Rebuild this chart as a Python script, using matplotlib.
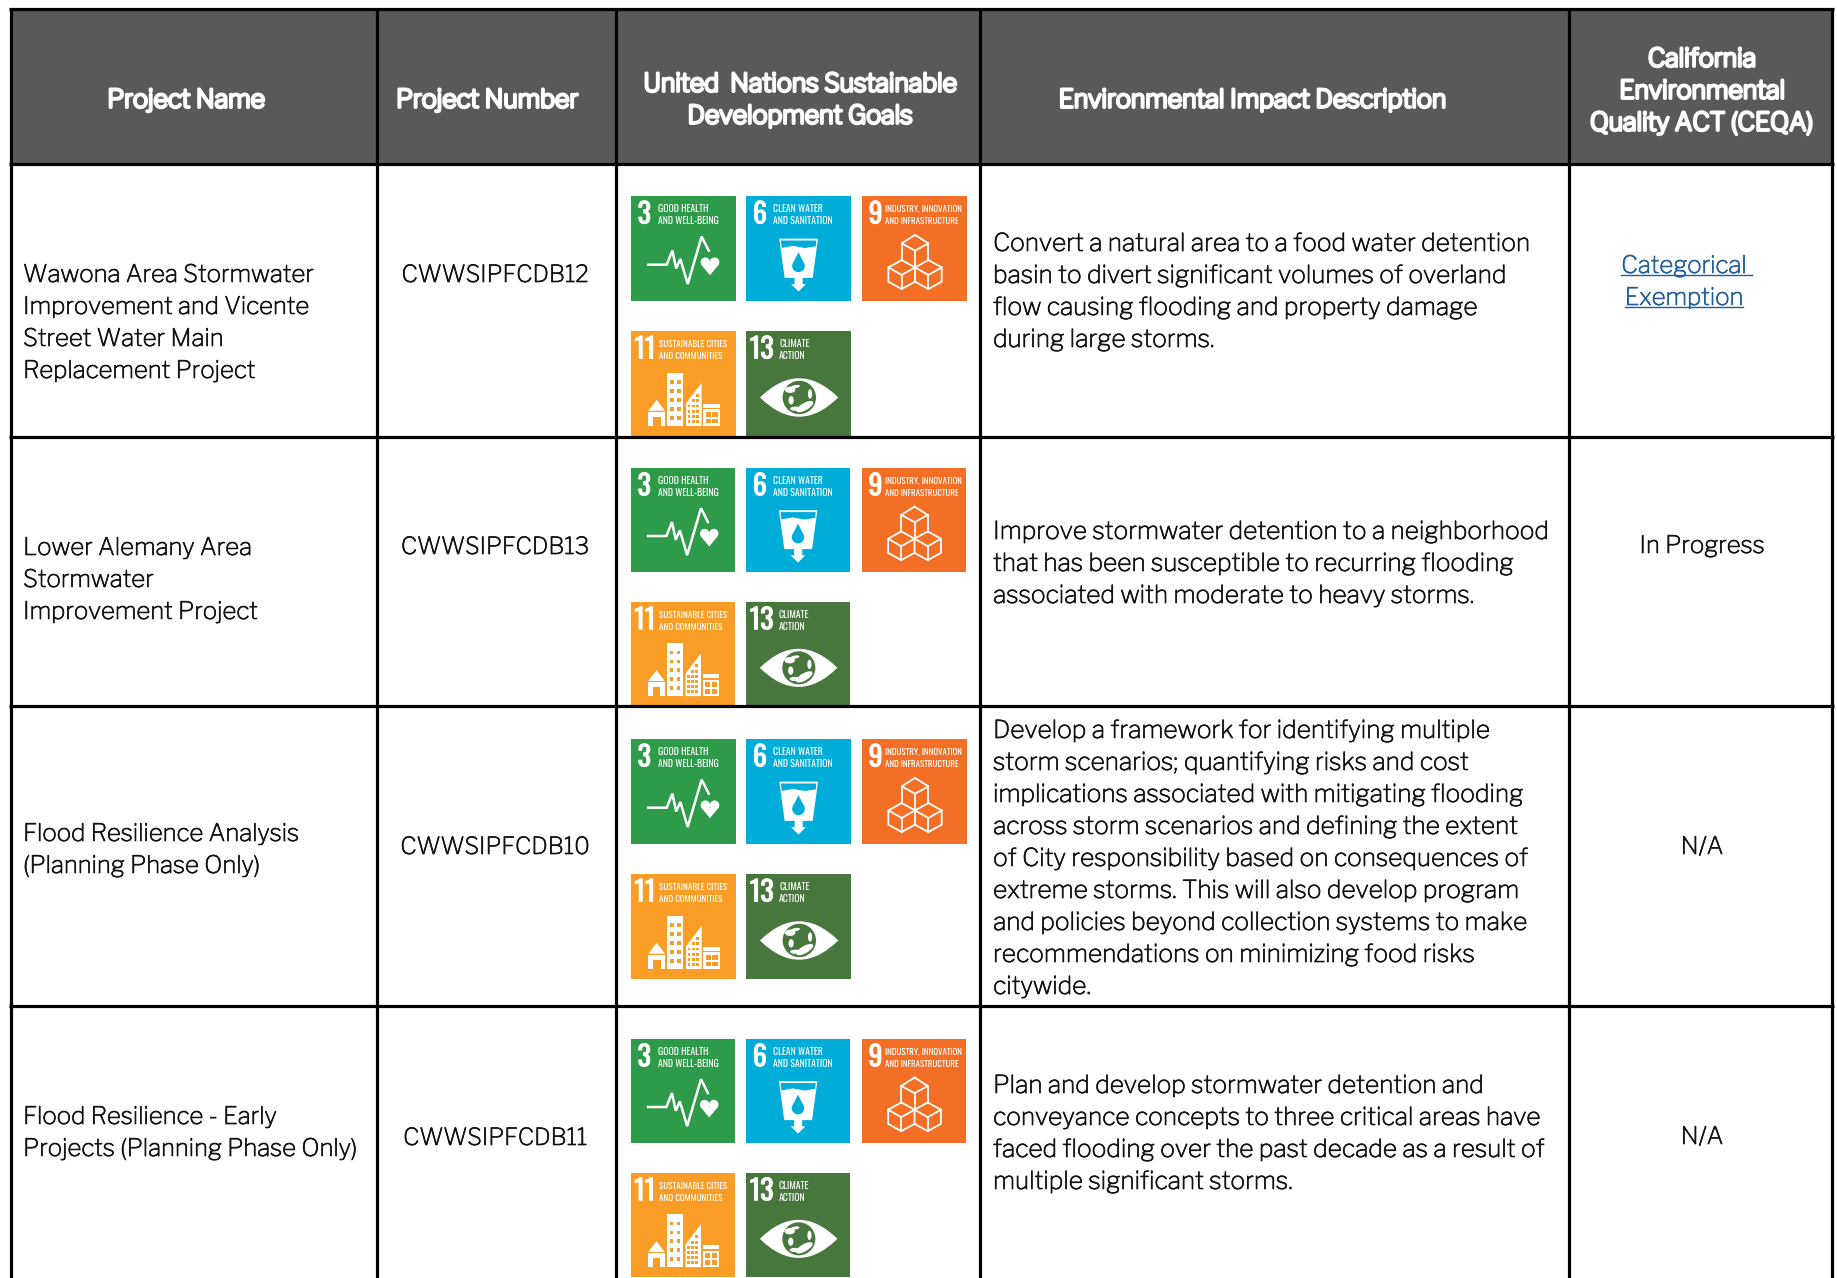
import matplotlib
matplotlib.use("Agg")
import matplotlib.patheffects as pe
import matplotlib.pyplot as plt
from matplotlib.patches import Circle, Ellipse, PathPatch, Polygon, Rectangle
from matplotlib.path import Path

# table content
HEADERS = [
    ["Project Name"],
    ["Project Number"],
    ["United  Nations Sustainable", "Development Goals"],
    ["Environmental Impact Description"],
    ["California", "Environmental", "Quality ACT (CEQA)"],
]
PROJECT_NAMES = [
    ["Wawona Area Stormwater", "Improvement and Vicente", "Street Water Main", "Replacement Project"],
    ["Lower Alemany Area", "Stormwater", "Improvement Project"],
    ["Flood Resilience Analysis", "(Planning Phase Only)"],
    ["Flood Resilience - Early", "Projects (Planning Phase Only)"],
]
PROJECT_NUMBERS = ["CWWSIPFCDB12", "CWWSIPFCDB13", "CWWSIPFCDB10", "CWWSIPFCDB11"]
DESCRIPTIONS = [
    ["Convert a natural area to a food water detention",
     "basin to divert significant volumes of overland",
     "flow causing flooding and property damage",
     "during large storms."],
    ["Improve stormwater detention to a neighborhood",
     "that has been susceptible to recurring flooding",
     "associated with moderate to heavy storms."],
    ["Develop a framework for identifying multiple",
     "storm scenarios; quantifying risks and cost",
     "implications associated with mitigating flooding",
     "across storm scenarios and defining the extent",
     "of City responsibility based on consequences of",
     "extreme storms. This will also develop program",
     "and policies beyond collection systems to make",
     "recommendations on minimizing food risks",
     "citywide."],
    ["Plan and develop stormwater detention and",
     "conveyance concepts to three critical areas have",
     "faced flooding over the past decade as a result of",
     "multiple significant storms."],
]
CEQA_STATUS = [["Categorical", "Exemption"], ["In Progress"], ["N/A"], ["N/A"]]

SDG_NUMBERS = ["3", "6", "9", "11", "13"]
SDG_LABELS = [
    ["GOOD HEALTH", "AND WELL-BEING"],
    ["CLEAN WATER", "AND SANITATION"],
    ["INDUSTRY, INNOVATION", "AND INFRASTRUCTURE"],
    ["SUSTAINABLE CITIES", "AND COMMUNITIES"],
    ["CLIMATE", "ACTION"],
]
SDG_COLORS = ["#2E9B4A", "#00ADD8", "#F36F26", "#F99D26", "#48773E"]

# layout, in pixels of the 1837x1278 picture
COL_EDGES = [11, 377, 616, 980, 1569, 1832]
ROW_EDGES = [9, 164, 437, 706, 1006]
FIG_H = 1278
HEADER_X = [186, 487, 800, 1252, 1702]
HEADER_Y = [100, 100, 100, 100, 91]
NAME_Y = [323, 580, 850, 1133]
NUMBER_Y = [275, 547, 847, 1138]
DESC_Y = [292, 564, 859, 1134]
CEQA_Y = [282, 546, 847, 1137]
ICON_TOPS = [(196, 331), (468, 602), (739, 874), (1039, 1173)]
ICON_SIZES = [105, 104, 105, 104]
ICON_LEFTS = [631, 746, 862]
LINE_PITCH = 32
NUM_X = [0.127, 0.133, 0.13, 0.133, 0.15]
LABEL_X = [0.26, 0.26, 0.219, 0.267, 0.317]
LABEL_SIZE = [7, 7, 6.4, 6.5, 7]

BODY_FONT = ["Libre Franklin", "Liberation Sans", "DejaVu Sans"]
ICON_FONT = ["Oswald", "Liberation Sans", "DejaVu Sans"]
HEADER_COLOR = "#58595B"
TEXT_COLOR = "#111111"
LINK_COLOR = "#215E99"


def stroked(width, color):
    return [pe.withStroke(linewidth=width, foreground=color)]


def text_block(ax, x, yc, lines, ha="center", **kw):
    """Draw lines one by one around a vertical centre."""
    out = []
    y0 = yc - (len(lines) - 1) * LINE_PITCH / 2
    for i, line in enumerate(lines):
        out.append(ax.text(x, y0 + i * LINE_PITCH, line, ha=ha, va="center", **kw))
    return out


def draw_health(ax, u, s, col):
    pts = [(.165, .654), (.34, .654), (.394, .52), (.43, .69), (.47, .6), (.54, .838), (.673, .387), (.74, .52)]
    ax.plot(*zip(*[u(*p) for p in pts]), color="white", lw=1.8, solid_joinstyle="miter", zorder=4)
    ax.add_patch(Circle(u(.708, .63), .045 * s, fc="white", ec="none", zorder=4))
    ax.add_patch(Circle(u(.796, .63), .045 * s, fc="white", ec="none", zorder=4))
    ax.add_patch(Polygon([u(.666, .65), u(.838, .65), u(.752, .755)], fc="white", ec="none", zorder=4))


def draw_water(ax, u, s, col):
    glass = [(.317, .406), (.686, .406), (.635, .78), (.54, .78), (.54, .84), (.57, .84), (.50, .91),
             (.43, .84), (.463, .84), (.463, .78), (.368, .78)]
    ax.add_patch(Polygon([u(*p) for p in glass], fc="white", ec="none", zorder=4))
    rim = [(.333, .424), (.67, .424), (.665, .48), (.56, .495), (.45, .475), (.34, .495)]
    ax.add_patch(Polygon([u(*p) for p in rim], fc=col, ec="none", zorder=5))
    ax.add_patch(Circle(u(.50, .665), .06 * s, fc=col, ec="none", zorder=5))
    ax.add_patch(Polygon([u(.50, .535), u(.45, .635), u(.55, .635)], fc=col, ec="none", zorder=5))


def draw_cubes(ax, u, s, col):
    strokes = [
        # upper cube
        [(.505, .371), (.632, .451), (.505, .521), (.378, .451), (.505, .371)],
        [(.378, .451), (.378, .61)],
        [(.632, .451), (.632, .61)],
        [(.505, .521), (.505, .68)],
        # lower left cube
        [(.378, .61), (.505, .68), (.378, .752), (.251, .68), (.378, .61)],
        [(.251, .68), (.251, .816), (.378, .886), (.505, .816), (.505, .68)],
        [(.378, .752), (.378, .886)],
        # lower right cube
        [(.632, .61), (.759, .68), (.632, .752), (.505, .68), (.632, .61)],
        [(.759, .68), (.759, .816), (.632, .886), (.505, .816)],
        [(.632, .752), (.632, .886)],
    ]
    for pts in strokes:
        ax.plot(*zip(*[u(*p) for p in pts]), color="white", lw=1.3, zorder=4)


def draw_city(ax, u, s, col):
    # house
    ax.add_patch(Polygon([u(.165, .759), u(.245, .657), u(.324, .759)], fc="white", ec="none", zorder=4))
    ax.add_patch(Rectangle(u(.165, .77), .159 * s, .135 * s, fc="white", ec="none", zorder=4))
    ax.add_patch(Rectangle(u(.213, .816), .07 * s, .09 * s, fc=col, ec="none", zorder=5))
    # tower
    ax.add_patch(Rectangle(u(.346, .397), .152 * s, .508 * s, fc="white", ec="none", zorder=4))
    for row in range(5):
        for c in range(2):
            ax.add_patch(Rectangle(u(.371 + c * .068, .467 + row * .086), .035 * s, .035 * s,
                                   fc=col, ec="none", zorder=5))
    # wedge building
    ax.add_patch(Polygon([u(.524, .905), u(.524, .689), u(.673, .492), u(.673, .905)], fc="white", ec="none", zorder=4))
    for row in range(6):
        for c in range(3):
            if (row < 2 and c == 0) or (row == 0 and c == 1):
                continue
            ax.add_patch(Rectangle(u(.54 + c * .04, .60 + row * .05), .026 * s, .028 * s, fc=col, ec="none", zorder=5))
    # low block
    ax.add_patch(Rectangle(u(.689, .695), .159 * s, .21 * s, fc="white", ec="none", zorder=4))
    ax.add_patch(Rectangle(u(.689, .735), .159 * s, .012 * s, fc=col, ec="none", zorder=5))
    for row in range(2):
        for c in range(2):
            ax.add_patch(Rectangle(u(.71 + c * .065, .77 + row * .065), .05 * s, .045 * s, fc=col, ec="none", zorder=5))


def draw_climate(ax, u, s, col):
    verts = [u(.133, .633), u(.506, .267), u(.879, .633), u(.506, 1.0), u(.133, .633)]
    codes = [Path.MOVETO, Path.CURVE3, Path.CURVE3, Path.CURVE3, Path.CURVE3]
    ax.add_patch(PathPatch(Path(verts, codes), fc="white", ec="none", zorder=4))
    ax.add_patch(Circle(u(.508, .633), .159 * s, fc=col, ec="none", zorder=5))
    for cx, cy, w, h, a in [(.42, .56, .10, .06, 0), (.47, .53, .09, .03, -10), (.56, .72, .18, .07, -30),
                            (.47, .74, .10, .04, 0), (.43, .66, .05, .08, 0), (.61, .60, .04, .09, 0)]:
        ax.add_patch(Ellipse(u(cx, cy), w * s, h * s, angle=a, fc="white", ec="none", zorder=6))


PICTOGRAMS = [draw_health, draw_water, draw_cubes, draw_city, draw_climate]


def draw_icon(ax, idx, x0, y0, size):
    col = SDG_COLORS[idx]
    u = lambda a, b: (x0 + a * size, y0 + b * size)
    ax.add_patch(Rectangle((x0, y0), size, size, fc=col, ec="none", zorder=3))
    ax.text(*u(NUM_X[idx], .18), SDG_NUMBERS[idx], ha="center", va="center", color="white",
            fontsize=20, family=ICON_FONT, zorder=4, path_effects=stroked(0.7, "white"))
    for i, line in enumerate(SDG_LABELS[idx]):
        ax.text(*u(LABEL_X[idx], .125 + i * .115), line, ha="left", va="center", color="white",
                fontsize=LABEL_SIZE[idx], family=ICON_FONT, zorder=4)
    PICTOGRAMS[idx](ax, u, size, col)


fig = plt.figure(figsize=(18.37, 12.78), dpi=100)
ax = fig.add_axes([0, 0, 1, 1])
ax.set_xlim(0, 1837)
ax.set_ylim(FIG_H, 0)
ax.axis("off")

# header band
ax.add_patch(Rectangle((COL_EDGES[0], ROW_EDGES[0]), COL_EDGES[-1] - COL_EDGES[0], ROW_EDGES[1] - ROW_EDGES[0],
                       fc=HEADER_COLOR, ec="none", zorder=1))

# grid lines, the table runs off the bottom of the picture
for x in COL_EDGES:
    ax.plot([x, x], [ROW_EDGES[0], FIG_H], color="black", lw=2.3, solid_capstyle="butt", zorder=8)
for y in ROW_EDGES:
    ax.plot([COL_EDGES[0] - 2, COL_EDGES[-1] + 2], [y, y], color="black", lw=2.3, solid_capstyle="butt", zorder=8)

for x, y, lines in zip(HEADER_X, HEADER_Y, HEADERS):
    text_block(ax, x, y, lines, color="white", fontsize=18, fontweight="bold", family=BODY_FONT, zorder=4,
               path_effects=stroked(2.1, "white"))

body = dict(color=TEXT_COLOR, fontsize=17.3, family=BODY_FONT, zorder=4, path_effects=stroked(0.5, TEXT_COLOR))
link = {**body, "color": LINK_COLOR, "path_effects": stroked(0.5, LINK_COLOR)}
for r in range(4):
    text_block(ax, 23, NAME_Y[r], PROJECT_NAMES[r], ha="left", **body)
    text_block(ax, 495, NUMBER_Y[r], [PROJECT_NUMBERS[r]], **{**body, "fontsize": 16.9})
    text_block(ax, 993, DESC_Y[r], DESCRIPTIONS[r], ha="left", **{**body, "fontsize": 17.7})
    if r == 0:
        links = text_block(ax, 1684, CEQA_Y[r], CEQA_STATUS[r], **link)
        fig.canvas.draw()
        # underlines are measured from the text; the first link keeps a trailing space
        for t, yl, extra in zip(links, [CEQA_Y[r] - 7, CEQA_Y[r] + 25], [5, 0]):
            bb = t.get_window_extent()
            ax.plot([bb.x0, bb.x1 + extra], [yl, yl], color=LINK_COLOR, lw=1.0, zorder=4)
    else:
        text_block(ax, 1702, CEQA_Y[r], CEQA_STATUS[r], **body)

    tops = ICON_TOPS[r]
    for i, x0 in enumerate(ICON_LEFTS):
        draw_icon(ax, i, x0, tops[0], ICON_SIZES[r])
    for i, x0 in enumerate(ICON_LEFTS[:2]):
        draw_icon(ax, i + 3, x0, tops[1], ICON_SIZES[r])

fig.savefig("out.png", dpi=100)
